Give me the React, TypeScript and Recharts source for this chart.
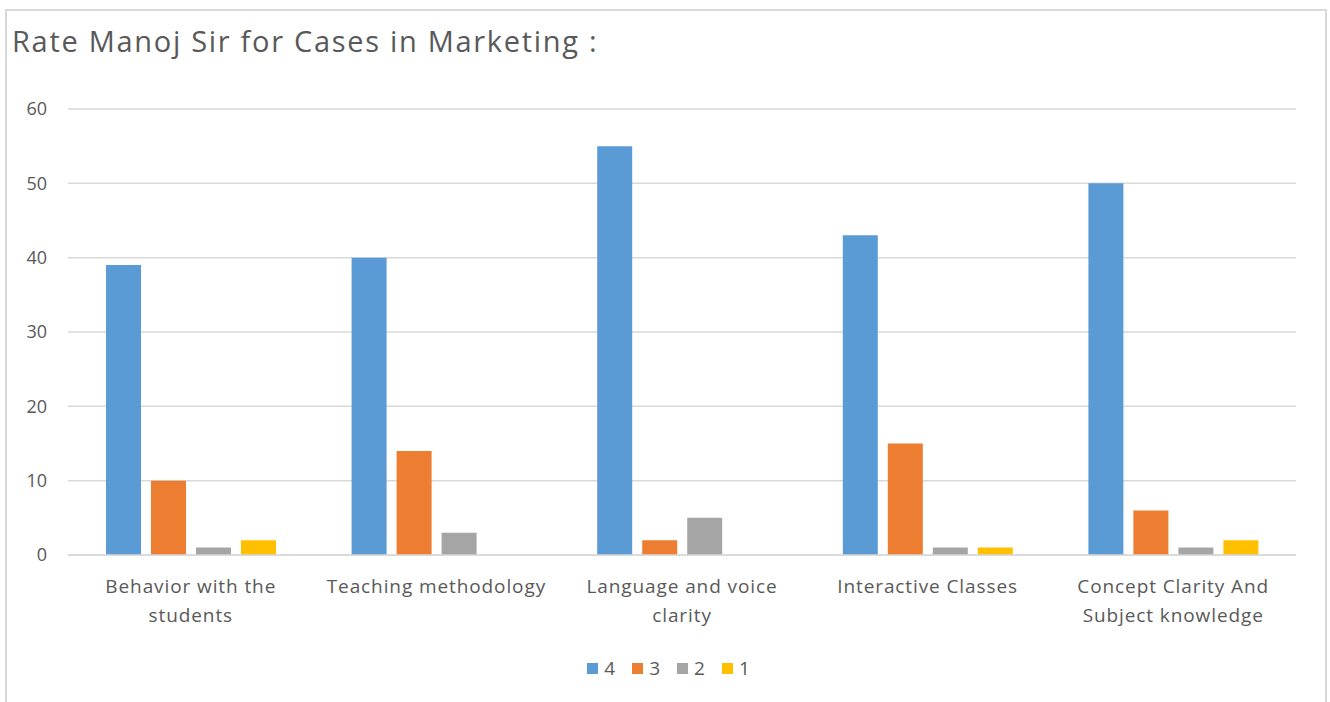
import { BarChart, Bar, XAxis, YAxis, CartesianGrid } from 'recharts';

const categories = [
  'Behavior with the students',
  'Teaching methodology',
  'Language and voice clarity',
  'Interactive Classes',
  'Concept Clarity And Subject knowledge',
];
const rating4 = [39, 40, 55, 43, 50];
const rating3 = [10, 14, 2, 15, 6];
const rating2 = [1, 3, 5, 1, 1];
const rating1 = [2, 0, 0, 1, 2];
const yTicks = [0, 10, 20, 30, 40, 50, 60];

const seriesKeys = ['4', '3', '2', '1'];
const colors = ['#5B9BD5', '#ED7D31', '#A5A5A5', '#FFC000'];

const data = categories.map((name, i) => ({
  name,
  '4': rating4[i],
  '3': rating3[i],
  '2': rating2[i],
  '1': rating1[i],
}));

const FONT = '"Open Sans", Lato, sans-serif';
const TEXT = '#595959';

function wrap(label: string, maxChars = 20) {
  const lines: string[] = [];
  let cur = '';
  for (const w of label.split(' ')) {
    const next = cur ? cur + ' ' + w : w;
    if (next.length > maxChars && cur) {
      lines.push(cur);
      cur = w;
    } else {
      cur = next;
    }
  }
  if (cur) lines.push(cur);
  return lines;
}

function CategoryTick(props: any) {
  const { x, y, payload } = props;
  const lines = wrap(payload.value);
  return (
    <text
      x={x}
      y={y + 30}
      textAnchor="middle"
      fill={TEXT}
      fontSize={19}
      fontFamily={FONT}
      letterSpacing={0.9}
    >
      {lines.map((l, i) => (
        <tspan key={i} x={x} dy={i === 0 ? 0 : 29}>
          {l}
        </tspan>
      ))}
    </text>
  );
}

function LegendBox() {
  return (
    <div
      style={{
        position: 'absolute',
        top: 655,
        left: 0,
        width: 1330,
        display: 'flex',
        justifyContent: 'center',
        fontFamily: FONT,
        fontSize: 19,
        color: TEXT,
        paddingLeft: 24,
        boxSizing: 'border-box',
      }}
    >
      {seriesKeys.map((k, i) => (
        <div key={k} style={{ display: 'flex', alignItems: 'center', marginRight: 17 }}>
          <span style={{ width: 11, height: 11, background: colors[i], display: 'inline-block', marginRight: 6 }} />
          <span>{k}</span>
        </div>
      ))}
    </div>
  );
}

export default function App() {
  return (
    <div style={{ position: 'fixed', top: 0, left: 0, width: 1330, height: 702, background: '#fff', overflow: 'hidden' }}>
      <div
        style={{
          position: 'absolute',
          left: 5,
          top: 9,
          width: 1318,
          height: 720,
          border: '2px solid #d9d9d9',
        }}
      />
      <div
        style={{
          position: 'absolute',
          left: 12,
          top: 21,
          fontFamily: FONT,
          fontSize: 29,
          letterSpacing: 1.7,
          color: TEXT,
          whiteSpace: 'nowrap',
        }}
      >
        Rate Manoj Sir for Cases in Marketing :
      </div>
      <div style={{ position: 'absolute', left: 0, top: 0 }}>
        <BarChart
          width={1330}
          height={702}
          data={data}
          margin={{ top: 109, right: 34, left: 8, bottom: 0 }}
          barSize={35}
          barGap={10}
        >
          <CartesianGrid vertical={false} stroke="#d9d9d9" strokeWidth={1.5} />
          <XAxis
            dataKey="name"
            height={147}
            axisLine={{ stroke: '#d9d9d9', strokeWidth: 1.5 }}
            tickLine={false}
            tick={<CategoryTick />}
            interval={0}
          />
          <YAxis
            width={60}
            domain={[0, 60]}
            ticks={yTicks}
            axisLine={false}
            tickLine={false}
            tickMargin={15}
            tick={{ fill: TEXT, fontSize: 18, fontFamily: FONT }}
          />
          {seriesKeys.map((k, i) => (
            <Bar key={k} dataKey={k} fill={colors[i]} isAnimationActive={false} />
          ))}
        </BarChart>
      </div>
      <LegendBox />
    </div>
  );
}
